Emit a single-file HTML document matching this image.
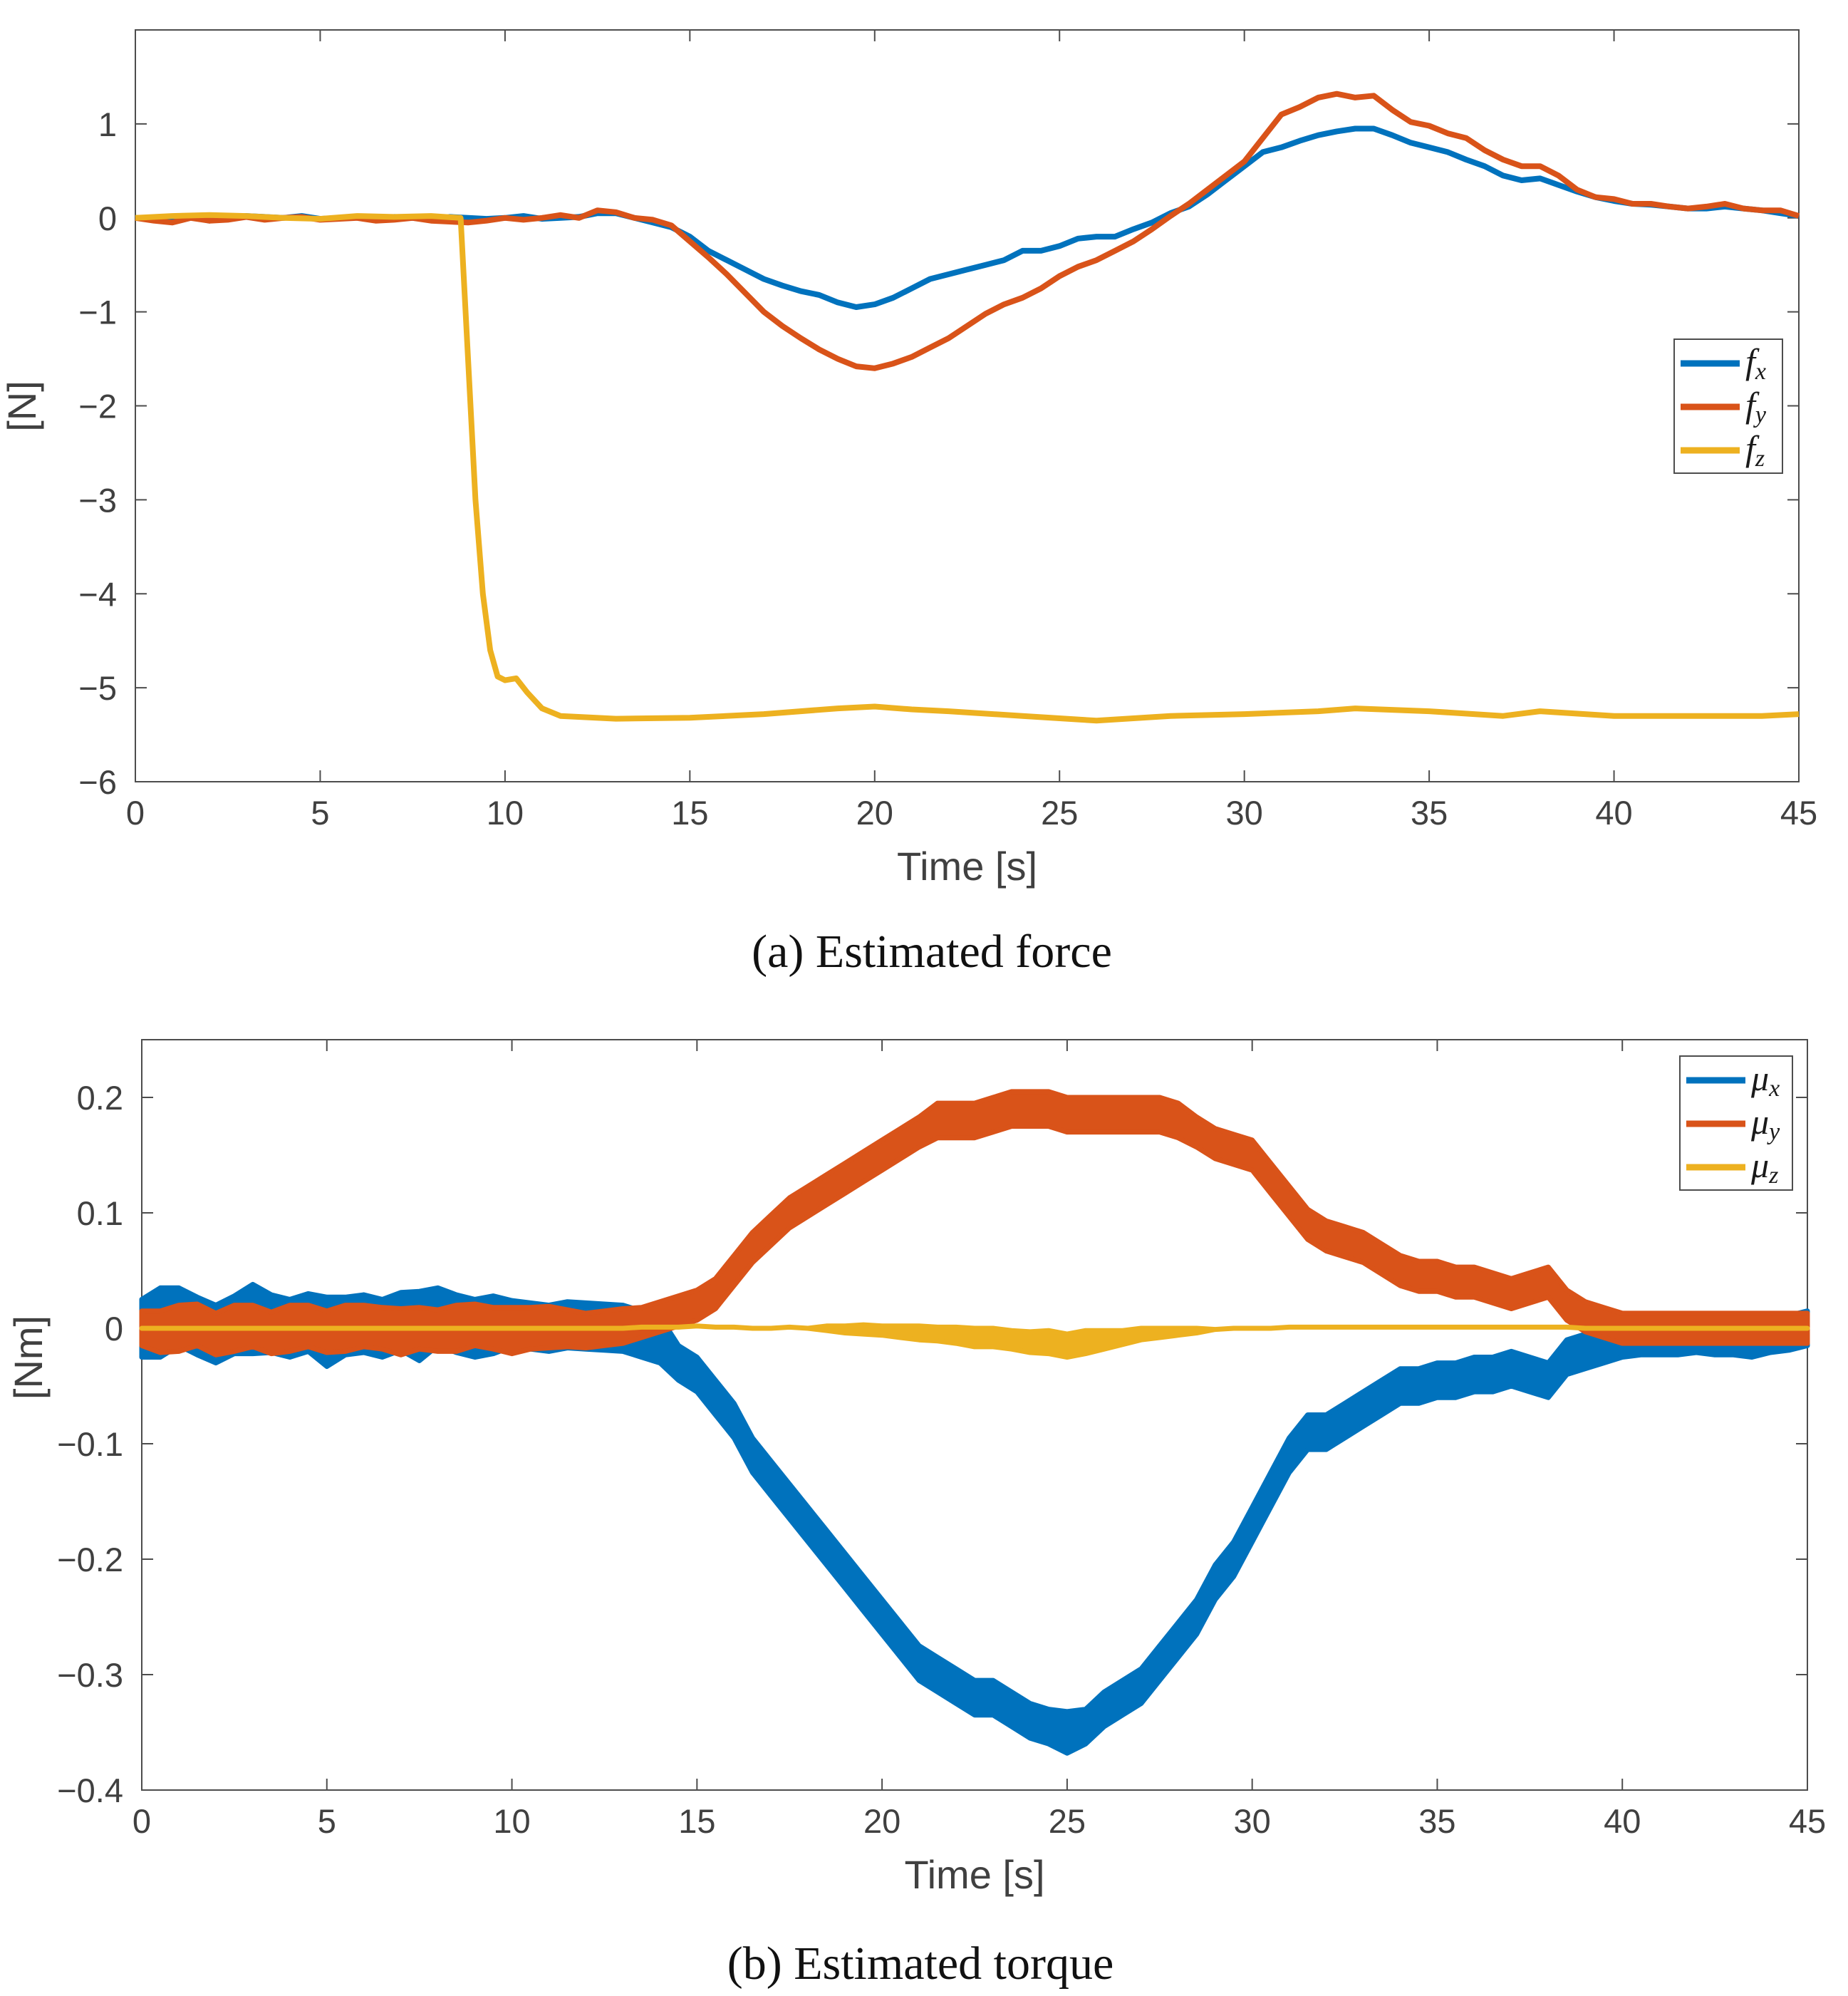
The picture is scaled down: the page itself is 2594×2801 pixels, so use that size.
<!DOCTYPE html>
<html><head><meta charset="utf-8"><style>
body{margin:0;background:#fff}
svg{display:block}
text{font-family:"Liberation Sans",sans-serif;fill:#404040}
.cap{font-family:"Liberation Serif",serif;fill:#111;font-size:66px}
.lg{font-family:"Liberation Serif",serif;font-style:italic;fill:#1a1a1a;font-size:50px}
</style></head><body>
<svg id="svg" width="2594" height="2801" viewBox="0 0 2594 2801">
<g id="g1"></g>
<g id="g2"></g>
<text class="cap" x="1308" y="1357" text-anchor="middle">(a)  Estimated force</text>
<text class="cap" x="1292" y="2777" text-anchor="middle">(b)  Estimated torque</text>
</svg>
<script>
const tHalf = [];
for (let i = 0; i <= 90; i++) tHalf.push(i * 0.5);
const fx = [0,0,-0.02,0.01,-0.03,0,0.02,0.01,0,0.02,-0.01,0,0.01,-0.02,0.01,0,-0.02,0.01,0,-0.01,0,0.02,-0.01,0,0.01,0.05,0.05,0,-0.05,-0.1,-0.2,-0.35,-0.45,-0.55,-0.65,-0.72,-0.78,-0.82,-0.9,-0.95,-0.92,-0.85,-0.75,-0.65,-0.6,-0.55,-0.5,-0.45,-0.35,-0.35,-0.3,-0.22,-0.2,-0.2,-0.12,-0.05,0.05,0.12,0.25,0.4,0.55,0.7,0.75,0.82,0.88,0.92,0.95,0.95,0.88,0.8,0.75,0.7,0.62,0.55,0.45,0.4,0.42,0.35,0.28,0.22,0.18,0.15,0.14,0.12,0.1,0.1,0.12,0.1,0.08,0.05,0.02];
const fy = [0,-0.03,-0.05,0,-0.03,-0.02,0.01,-0.02,0,0.01,-0.02,-0.01,0,-0.03,-0.02,0,-0.03,-0.04,-0.05,-0.03,0,-0.02,0,0.03,0,0.08,0.06,0,-0.02,-0.08,-0.25,-0.42,-0.6,-0.8,-1.0,-1.15,-1.28,-1.4,-1.5,-1.58,-1.6,-1.55,-1.48,-1.38,-1.28,-1.15,-1.02,-0.92,-0.85,-0.75,-0.62,-0.52,-0.45,-0.35,-0.25,-0.12,0.02,0.15,0.3,0.45,0.6,0.85,1.1,1.18,1.28,1.32,1.28,1.3,1.15,1.02,0.98,0.9,0.85,0.72,0.62,0.55,0.55,0.45,0.3,0.22,0.2,0.15,0.15,0.12,0.1,0.12,0.15,0.1,0.08,0.08,0.02];
const tz = [0,1,2,3,4,5,6,7,8,8.8,9.0,9.2,9.4,9.6,9.8,10,10.3,10.6,11,11.5,13,15,17,19,20,21,22,24,26,28,30,32,33,35,37,38,40,42,44,45];
const fz = [0,0.02,0.03,0.02,0,-0.01,0.02,0.01,0.02,0,-1.5,-3.0,-4.0,-4.6,-4.88,-4.92,-4.9,-5.05,-5.22,-5.3,-5.33,-5.32,-5.28,-5.22,-5.2,-5.23,-5.25,-5.3,-5.35,-5.3,-5.28,-5.25,-5.22,-5.25,-5.3,-5.25,-5.3,-5.3,-5.3,-5.28];

const mux = [0,0.005,0.01,0.002,-0.005,0.003,0.008,0.004,0,0.005,-0.003,0.002,0.004,0,0.006,0.002,0.01,0.004,0,0.003,0.004,0.002,0,0.003,0.002,0.001,0,-0.005,-0.01,-0.03,-0.04,-0.06,-0.08,-0.11,-0.13,-0.15,-0.17,-0.19,-0.21,-0.23,-0.25,-0.27,-0.29,-0.3,-0.31,-0.32,-0.32,-0.33,-0.34,-0.345,-0.35,-0.345,-0.33,-0.32,-0.31,-0.29,-0.27,-0.25,-0.22,-0.2,-0.17,-0.14,-0.11,-0.09,-0.09,-0.08,-0.07,-0.06,-0.05,-0.05,-0.045,-0.045,-0.04,-0.04,-0.035,-0.04,-0.045,-0.025,-0.02,-0.015,-0.01,-0.008,-0.008,-0.008,-0.006,-0.008,-0.008,-0.01,-0.006,-0.004,0];
const mux_spread = [0.025,0.03,0.025,0.025,0.025,0.025,0.03,0.025,0.025,0.025,0.03,0.025,0.025,0.025,0.025,0.03,0.025,0.025,0.025,0.025,0.02,0.02,0.02,0.02,0.02,0.02,0.02,0.02,0.02,0.015,0.015,0.015,0.015,0.015,0.015,0.015,0.015,0.015,0.015,0.015,0.015,0.015,0.015,0.015,0.015,0.015,0.015,0.015,0.015,0.015,0.018,0.015,0.015,0.015,0.015,0.015,0.015,0.015,0.015,0.015,0.015,0.015,0.015,0.015,0.015,0.015,0.015,0.015,0.015,0.015,0.015,0.015,0.015,0.015,0.015,0.015,0.015,0.015,0.015,0.015,0.015,0.015,0.015,0.015,0.015,0.015,0.015,0.015,0.015,0.015,0.015];
const muy = [0,-0.003,0,0.003,-0.005,0,0.002,-0.004,0,0.002,-0.003,0,0.002,0,-0.003,0,-0.002,0,0.003,0,-0.002,0,0.001,0,-0.002,0,0.002,0.005,0.01,0.015,0.02,0.03,0.05,0.07,0.085,0.1,0.11,0.12,0.13,0.14,0.15,0.16,0.17,0.18,0.18,0.18,0.185,0.19,0.19,0.19,0.185,0.185,0.185,0.185,0.185,0.185,0.18,0.17,0.16,0.155,0.15,0.13,0.11,0.09,0.08,0.075,0.07,0.06,0.05,0.045,0.045,0.04,0.04,0.035,0.03,0.035,0.04,0.02,0.01,0.005,0,0,0,0,0,0,0,0,0,0,0];
const muy_spread = [0.015,0.018,0.02,0.018,0.018,0.02,0.018,0.018,0.02,0.018,0.018,0.02,0.018,0.018,0.02,0.018,0.018,0.02,0.018,0.018,0.02,0.018,0.018,0.016,0.015,0.015,0.015,0.013,0.013,0.013,0.013,0.013,0.013,0.013,0.013,0.013,0.013,0.013,0.013,0.013,0.013,0.013,0.013,0.015,0.015,0.015,0.015,0.015,0.015,0.015,0.015,0.015,0.015,0.015,0.015,0.015,0.015,0.013,0.013,0.013,0.013,0.013,0.013,0.013,0.013,0.013,0.013,0.013,0.013,0.013,0.013,0.013,0.013,0.013,0.013,0.013,0.013,0.013,0.013,0.013,0.013,0.013,0.013,0.013,0.013,0.013,0.013,0.013,0.013,0.013,0.013];
const muz = [0,0,0,0,0,0,0,0,0,0,0,0,0,0,0,0,0,0,0,0,0,0,0,0,0,0,0,0.001,0.001,0.001,0.002,0.001,0.001,0,0,0.001,0,0,-0.001,-0.001,-0.002,-0.003,-0.004,-0.005,-0.006,-0.008,-0.008,-0.01,-0.012,-0.012,-0.015,-0.012,-0.01,-0.008,-0.005,-0.004,-0.003,-0.002,-0.001,0,0,0,0.001,0.001,0.001,0.001,0.001,0.001,0.001,0.001,0.001,0.001,0.001,0.001,0.001,0.001,0.001,0.001,0,0,0,0,0,0,0,0,0,0,0,0,0];
const muz_spread = [0,0,0,0,0,0,0,0,0,0,0,0,0,0,0,0,0,0,0,0,0,0,0,0,0,0,0,0,0,0,0,0,0,0,0,0,0,0.002,0.003,0.004,0.004,0.005,0.006,0.006,0.007,0.008,0.008,0.008,0.009,0.01,0.01,0.01,0.008,0.006,0.005,0.004,0.003,0.002,0,0,0,0,0,0,0,0,0,0,0,0,0,0,0,0,0,0,0,0,0,0,0,0,0,0,0,0,0,0,0,0,0];

const xTicks = [0,5,10,15,20,25,30,35,40,45];
const yTicks1 = [1,0,-1,-2,-3,-4,-5,-6];
const yTickLabels1 = ["1","0","\u22121","\u22122","\u22123","\u22124","\u22125","\u22126"];
const yTicks2 = [0.2,0.1,0,-0.1,-0.2,-0.3,-0.4];
const yTickLabels2 = ["0.2","0.1","0","\u22120.1","\u22120.2","\u22120.3","\u22120.4"];
const C = ["#0072BD","#D95319","#EDB120"];
const NS = "http://www.w3.org/2000/svg";

function mk(parent, tag, attrs) {
  const e = document.createElementNS(NS, tag);
  for (const k in attrs) e.setAttribute(k, attrs[k]);
  parent.appendChild(e);
  return e;
}

function axes(g, L, R, T, B, ymin, ymax, yT, yL, ylabel, ylx, yly) {
  const sx = v => L + (v / 45) * (R - L);
  const sy = v => B - (v - ymin) / (ymax - ymin) * (B - T);
  const box = mk(g, 'rect', {x:L, y:T, width:R-L, height:B-T, fill:'none', stroke:'#4d4d4d', 'stroke-width':2});
  
  
  xTicks.forEach(v => {
    const x = sx(v);
    mk(g, 'line', {x1:x, x2:x, y1:B, y2:B-16, stroke:'#4d4d4d', 'stroke-width':2});
    mk(g, 'line', {x1:x, x2:x, y1:T, y2:T+16, stroke:'#4d4d4d', 'stroke-width':2});
    const t = mk(g, 'text', {x:x, y:B+60, 'text-anchor':'middle', 'font-size':47});
    t.textContent = v;
    
    
  });
  yT.forEach((v, i) => {
    const y = sy(v);
    mk(g, 'line', {x1:L, x2:L+16, y1:y, y2:y, stroke:'#4d4d4d', 'stroke-width':2});
    mk(g, 'line', {x1:R, x2:R-16, y1:y, y2:y, stroke:'#4d4d4d', 'stroke-width':2});
    const t = mk(g, 'text', {x:L-26, y:y+17, 'text-anchor':'end', 'font-size':47});
    t.textContent = yL[i];
    
    
  });
  const xl = mk(g, 'text', {x:(L+R)/2, y:B+138, 'text-anchor':'middle', 'font-size':56});
  xl.textContent = 'Time [s]';
  
  
  const yl = mk(g, 'text', {x:ylx, y:yly, 'text-anchor':'middle', 'font-size':56, transform:`rotate(-90 ${ylx} ${yly})`});
  yl.textContent = ylabel;
  
  
  return {sx, sy};
}

function line(g, sx, sy, ts, vs, col, w, name) {
  const p = mk(g, 'path', {d: ts.map((t,i)=>(i?'L':'M')+sx(t).toFixed(1)+','+sy(vs[i]).toFixed(1)).join(''), fill:'none', stroke:col, 'stroke-width':w, 'stroke-linejoin':'round'});
  
  
}
function band(g, sx, sy, ts, vs, sp, col, name) {
  let d = '';
  ts.forEach((t,i)=>{ d += (i?'L':'M') + sx(t).toFixed(1)+','+sy(vs[i]+sp[i]).toFixed(1); });
  for (let i = ts.length-1; i >= 0; i--) d += 'L' + sx(ts[i]).toFixed(1)+','+sy(vs[i]-sp[i]).toFixed(1);
  d += 'Z';
  const p = mk(g, 'path', {d, fill:col, stroke:col, 'stroke-width':7, 'stroke-linejoin':'round'});
  
  
}
function legend(g, x, y, w, h, labels, subs, name) {
  const lg = mk(g, 'g', {});
  
  
  mk(lg, 'rect', {x, y, width:w, height:h, fill:'#fff', stroke:'#4d4d4d', 'stroke-width':2});
  labels.forEach((l, i) => {
    const yy = y + 34 + i*61;
    mk(lg, 'line', {x1:x+9, x2:x+92, y1:yy, y2:yy, stroke:C[i], 'stroke-width':9});
    const t = mk(lg, 'text', {x:x+100, y:yy+14, class:'lg'});
    t.textContent = l;
    const s = mk(t, 'tspan', {'font-size':34, dy:8});
    s.textContent = subs[i];
    
    
  });
}

const g1 = document.getElementById('g1');
const a1 = axes(g1, 190, 2525, 42, 1097, -6, 2, yTicks1, yTickLabels1, '[N]', 50, 570);
line(g1, a1.sx, a1.sy, tHalf, fx, C[0], 8, 'series-fx');
line(g1, a1.sx, a1.sy, tHalf, fy, C[1], 8, 'series-fy');
line(g1, a1.sx, a1.sy, tz, fz, C[2], 8, 'series-fz');
legend(g1, 2350, 476, 152, 188, ['f','f','f'], ['x','y','z'], 'legend-force');

const g2 = document.getElementById('g2');
const a2 = axes(g2, 199, 2537, 1459, 2512, -0.4, 0.25, yTicks2, yTickLabels2, '[Nm]', 59, 1905);
band(g2, a2.sx, a2.sy, tHalf, mux, mux_spread, C[0], 'series-mux');
band(g2, a2.sx, a2.sy, tHalf, muy, muy_spread, C[1], 'series-muy');
band(g2, a2.sx, a2.sy, tHalf, muz, muz_spread, C[2], 'series-muz');
legend(g2, 2358, 1482, 158, 188, ['\u03bc','\u03bc','\u03bc'], ['x','y','z'], 'legend-torque');
</script>
</body></html>
